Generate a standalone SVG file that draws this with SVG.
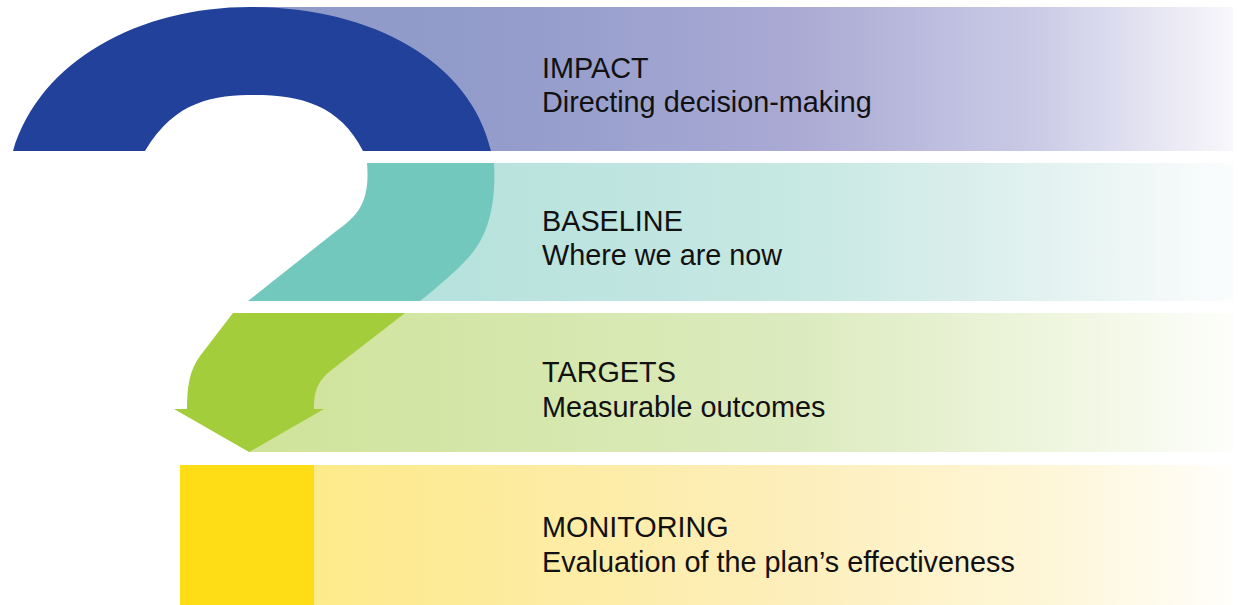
<svg xmlns="http://www.w3.org/2000/svg" width="1238" height="605" viewBox="0 0 1238 605">
<defs>
<linearGradient id="gP" x1="265" y1="0" x2="1233" y2="0" gradientUnits="userSpaceOnUse">
<stop offset="0" stop-color="#8e9ac9"/><stop offset="0.25" stop-color="#939ccb"/><stop offset="0.55" stop-color="#aaaad4"/><stop offset="0.8" stop-color="#cbcbe7"/><stop offset="1" stop-color="#f8f7fb"/>
</linearGradient>
<linearGradient id="gT" x1="400" y1="0" x2="1233" y2="0" gradientUnits="userSpaceOnUse">
<stop offset="0" stop-color="#b5e1dc"/><stop offset="0.48" stop-color="#c7e8e3"/><stop offset="0.78" stop-color="#e3f2f0"/><stop offset="1" stop-color="#fbfdfd"/>
</linearGradient>
<linearGradient id="gG" x1="249" y1="0" x2="1233" y2="0" gradientUnits="userSpaceOnUse">
<stop offset="0" stop-color="#cfe399"/><stop offset="0.56" stop-color="#dcebbf"/><stop offset="0.81" stop-color="#eef5dd"/><stop offset="1" stop-color="#fdfefb"/>
</linearGradient>
<linearGradient id="gY" x1="314" y1="0" x2="1233" y2="0" gradientUnits="userSpaceOnUse">
<stop offset="0" stop-color="#fdea8a"/><stop offset="0.5" stop-color="#fdeeb9"/><stop offset="0.8" stop-color="#fef6d8"/><stop offset="1" stop-color="#fffefa"/>
</linearGradient>
</defs>
<style>
.t{font-family:"Liberation Sans",Arial,sans-serif;font-size:28.8px;fill:#111}
</style>
<g id="impact">
<path d="M255,7 H1233 V151 H470 C450,80 370,20 255,7 Z" fill="url(#gP)"/>
<path d="M13,151 C40,60 140,7 250,7 C370,7 470,60 491,151 L363,151 C340,105 300,95 255,95 C215,95 175,100 145,151 Z" fill="#22419a"/>
<text class="t" x="542" y="78">IMPACT</text>
<text class="t" x="542" y="112">Directing decision-making</text>
</g>
<g id="baseline">
<rect x="400" y="163" width="833" height="138" fill="url(#gT)"/>
<path d="M367,163 L494,163 C496,200 490,235 468,258 C455,272 440,285 420,301 L248,301 L335,232 C360,215 370,200 367,163 Z" fill="#72c8bc"/>
<text class="t" x="542" y="231">BASELINE</text>
<text class="t" x="542" y="265">Where we are now</text>
</g>
<g id="targets">
<rect x="249" y="313" width="984" height="139" fill="url(#gG)"/>
<path d="M233,313 L405,313 L334,368 C318,380 314,390 314,409 L324,409 L249,452 L174,409 L187,409 C187,385 190,370 200,356 Z" fill="#a3cd3b"/>
<text class="t" x="542" y="382">TARGETS</text>
<text class="t" x="542" y="417">Measurable outcomes</text>
</g>
<g id="monitoring">
<rect x="314" y="465" width="919" height="140" fill="url(#gY)"/>
<rect x="180" y="465" width="134" height="140" fill="#fedd17"/>
<text class="t" x="542" y="537">MONITORING</text>
<text class="t" x="542" y="572">Evaluation of the plan’s effectiveness</text>
</g>
<g id="connectors"/>
</svg>
